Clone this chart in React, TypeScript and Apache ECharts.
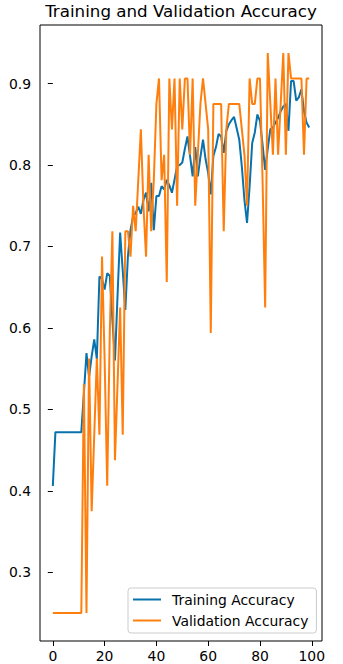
import React, { useEffect, useRef } from 'react';
import * as echarts from 'echarts';

const epochs: number[] = Array.from({ length: 100 }, (_, i) => i);

const trainingAccuracy: number[] = [
  0.406, 0.472, 0.472, 0.472, 0.472, 0.472, 0.472, 0.472, 0.472, 0.472,
  0.472, 0.472, 0.52, 0.569, 0.54, 0.565, 0.586, 0.562, 0.663, 0.66,
  0.647, 0.667, 0.664, 0.61, 0.56, 0.64, 0.717, 0.67, 0.622, 0.688,
  0.72, 0.737, 0.741, 0.749, 0.74, 0.757, 0.766, 0.743, 0.778, 0.72,
  0.762, 0.762, 0.774, 0.77, 0.782, 0.775, 0.766, 0.782, 0.799, 0.8,
  0.803, 0.82, 0.835, 0.811, 0.786, 0.822, 0.786, 0.81, 0.831, 0.807,
  0.79, 0.764, 0.811, 0.822, 0.838, 0.835, 0.815, 0.842, 0.85, 0.855,
  0.859, 0.845, 0.831, 0.798, 0.757, 0.729, 0.774, 0.827, 0.84, 0.862,
  0.854, 0.825, 0.794, 0.82, 0.844, 0.846, 0.852, 0.858, 0.866, 0.872,
  0.875, 0.842, 0.903, 0.903, 0.879, 0.883, 0.893, 0.866, 0.852, 0.846,
];

const validationAccuracy: number[] = [
  0.25, 0.25, 0.25, 0.25, 0.25, 0.25, 0.25, 0.25, 0.25, 0.25,
  0.25, 0.25, 0.53125, 0.25, 0.5625, 0.375, 0.46875, 0.5625, 0.46875, 0.6875,
  0.5625, 0.40625, 0.59375, 0.71875, 0.4375, 0.53125, 0.625, 0.46875, 0.71875, 0.71875,
  0.6875, 0.75, 0.71875, 0.78125, 0.84375, 0.75, 0.6875, 0.8125, 0.71875, 0.78125,
  0.875, 0.90625, 0.78125, 0.8125, 0.65625, 0.90625, 0.84375, 0.90625, 0.75, 0.90625,
  0.84375, 0.90625, 0.90625, 0.8125, 0.90625, 0.75, 0.8125, 0.875, 0.90625, 0.875,
  0.84375, 0.59375, 0.875, 0.875, 0.875, 0.875, 0.71875, 0.84375, 0.875, 0.875,
  0.875, 0.875, 0.875, 0.84375, 0.8125, 0.75, 0.90625, 0.875, 0.875, 0.90625,
  0.90625, 0.78125, 0.625, 0.9375, 0.875, 0.8125, 0.90625, 0.8125, 0.875, 0.9375,
  0.8125, 0.9375, 0.90625, 0.90625, 0.90625, 0.90625, 0.90625, 0.8125, 0.90625, 0.90625,
];

const xTicks: number[] = [0, 20, 40, 60, 80, 100];
const yTicks: number[] = [0.3, 0.4, 0.5, 0.6, 0.7, 0.8, 0.9];

const FONT = 'DejaVu Sans';
const BLUE = '#0872ad';
const ORANGE = '#ff7f0e';

export default function App() {
  const ref = useRef<HTMLDivElement>(null);

  useEffect(() => {
    if (!ref.current) return;
    const chart = echarts.init(ref.current, null, { renderer: 'svg' });

    const xMinData = Math.min(...epochs);
    const xMaxData = Math.max(...epochs);
    const xPad = (xMaxData - xMinData) * 0.05;
    const all = trainingAccuracy.concat(validationAccuracy);
    const yMinData = Math.min(...all);
    const yMaxData = Math.max(...all);
    const yPad = (yMaxData - yMinData) * 0.05;

    chart.setOption({
      animation: false,
      backgroundColor: '#ffffff',
      grid: {
        left: 40,
        top: 25,
        width: 282,
        height: 616,
        show: true,
        borderColor: '#000',
        borderWidth: 1,
        backgroundColor: 'transparent',
      },
      xAxis: {
        type: 'value',
        min: xMinData - xPad,
        max: xMaxData + xPad,
        axisLine: { show: false },
        splitLine: { show: false },
        axisTick: {
          show: true,
          length: 5,
          customValues: xTicks,
          lineStyle: { color: '#000', width: 1 },
        },
        axisLabel: {
          customValues: xTicks,
          margin: 8,
          fontSize: 13.9,
          fontFamily: FONT,
          color: '#000',
          formatter: (v: number) => String(Math.round(v)),
        },
      },
      yAxis: {
        type: 'value',
        min: yMinData - yPad,
        max: yMaxData + yPad,
        axisLine: { show: false },
        splitLine: { show: false },
        axisTick: {
          show: true,
          length: 5,
          customValues: yTicks,
          lineStyle: { color: '#000', width: 1 },
        },
        axisLabel: {
          customValues: yTicks,
          margin: 9,
          fontSize: 13.9,
          fontFamily: FONT,
          color: '#000',
          formatter: (v: number) => v.toFixed(1),
        },
      },
      legend: {
        orient: 'vertical',
        left: 128,
        top: 588,
        padding: [1, 8, 2, 5],
        itemWidth: 28,
        itemHeight: 2,
        itemGap: 0,
        icon: 'rect',
        borderColor: '#cccccc',
        borderWidth: 1,
        borderRadius: 3,
        backgroundColor: 'rgba(255,255,255,0.8)',
        textStyle: {
          fontSize: 13.9,
          fontFamily: FONT,
          color: '#000',
          lineHeight: 21,
          padding: [0, 0, 0, 6],
        },
        data: ['Training Accuracy', 'Validation Accuracy'],
      },
      graphic: [
        {
          type: 'text',
          x: 181,
          y: 11,
          style: {
            text: 'Training and Validation Accuracy',
            fontSize: 16.7,
            fontFamily: FONT,
            fill: '#000',
            align: 'center',
            verticalAlign: 'middle',
          },
        },
      ],
      series: [
        {
          name: 'Training Accuracy',
          type: 'line',
          data: epochs.map((e, i) => [e, trainingAccuracy[i]]),
          showSymbol: false,
          symbol: 'none',
          lineStyle: { color: BLUE, width: 2 },
          itemStyle: { color: BLUE },
        },
        {
          name: 'Validation Accuracy',
          type: 'line',
          data: epochs.map((e, i) => [e, validationAccuracy[i]]),
          showSymbol: false,
          symbol: 'none',
          lineStyle: { color: ORANGE, width: 2 },
          itemStyle: { color: ORANGE },
        },
      ],
    });

    return () => chart.dispose();
  }, []);

  return (
    <div
      ref={ref}
      style={{ position: 'absolute', left: 0, top: 0, width: 343, height: 664 }}
    />
  );
}
